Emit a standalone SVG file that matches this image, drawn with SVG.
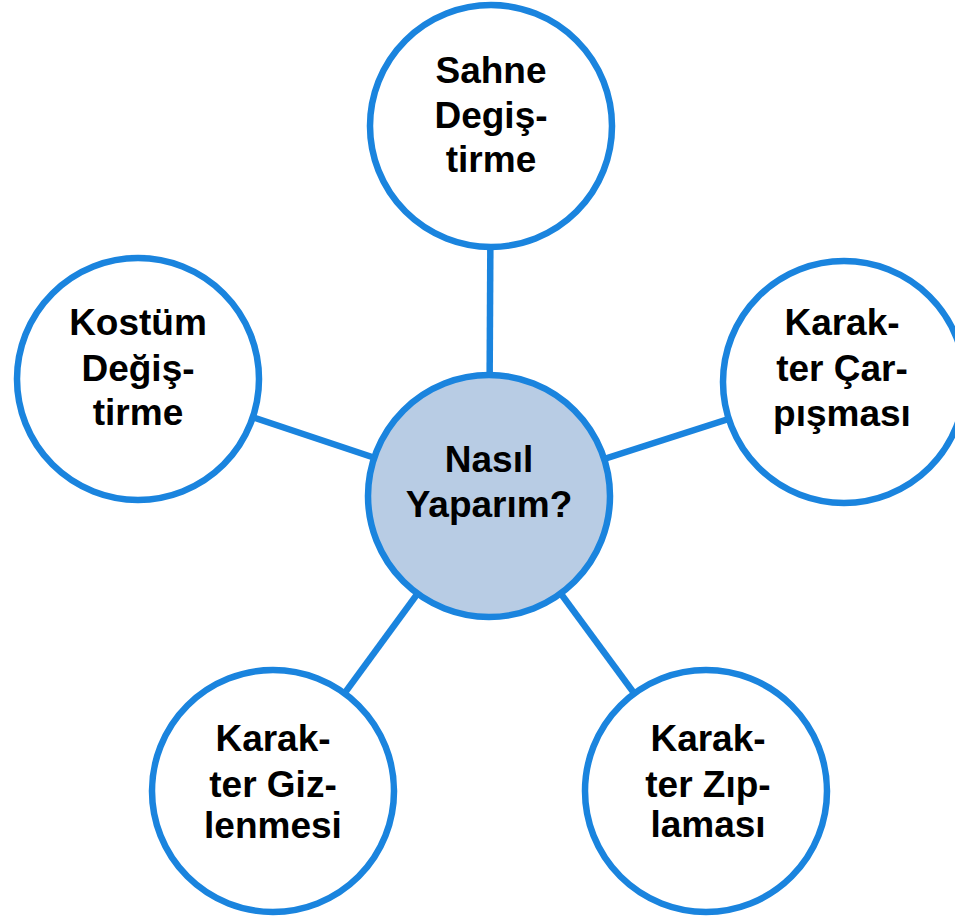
<svg xmlns="http://www.w3.org/2000/svg" width="955" height="920" viewBox="0 0 955 920">
<style>
.c{fill:#ffffff;stroke:#1a84de;stroke-width:6.5}
.m{fill:#b8cce4;stroke:#1a84de;stroke-width:6.5}
.l{stroke:#1a84de;stroke-width:6.5;fill:none}
text{font-family:"Liberation Sans",Arial,sans-serif;font-weight:bold;font-size:37px;fill:#000;text-anchor:middle}
</style>
<rect width="955" height="920" fill="#ffffff"/>
<g id="connectors">
<line class="l" x1="489" y1="496" x2="491" y2="126"/>
<line class="l" x1="489" y1="496" x2="138" y2="379"/>
<line class="l" x1="489" y1="496" x2="844" y2="382"/>
<line class="l" x1="489" y1="496" x2="273" y2="791"/>
<line class="l" x1="489" y1="496" x2="706" y2="791"/>
</g>
<g id="center">
<circle class="m" cx="489" cy="496" r="121"/>
<text x="489" y="472">Nasıl</text>
<text x="489" y="517">Yaparım?</text>
</g>
<g id="sahne">
<circle class="c" cx="491" cy="126" r="121"/>
<text x="491" y="83">Sahne</text>
<text x="491" y="128">Degiş-</text>
<text x="491" y="172">tirme</text>
</g>
<g id="kostum">
<circle class="c" cx="138" cy="379" r="121"/>
<text x="138" y="335">Kostüm</text>
<text x="138" y="381">Değiş-</text>
<text x="138" y="425">tirme</text>
</g>
<g id="carpisma">
<circle class="c" cx="844" cy="382" r="121"/>
<text x="842" y="335">Karak-</text>
<text x="842" y="381">ter Çar-</text>
<text x="842" y="426">pışması</text>
</g>
<g id="gizlenme">
<circle class="c" cx="273" cy="791" r="121"/>
<text x="273" y="751">Karak-</text>
<text x="273" y="797">ter Giz-</text>
<text x="273" y="838">lenmesi</text>
</g>
<g id="ziplama">
<circle class="c" cx="706" cy="791" r="121"/>
<text x="708" y="751">Karak-</text>
<text x="708" y="797">ter Zıp-</text>
<text x="708" y="837">laması</text>
</g>
</svg>
